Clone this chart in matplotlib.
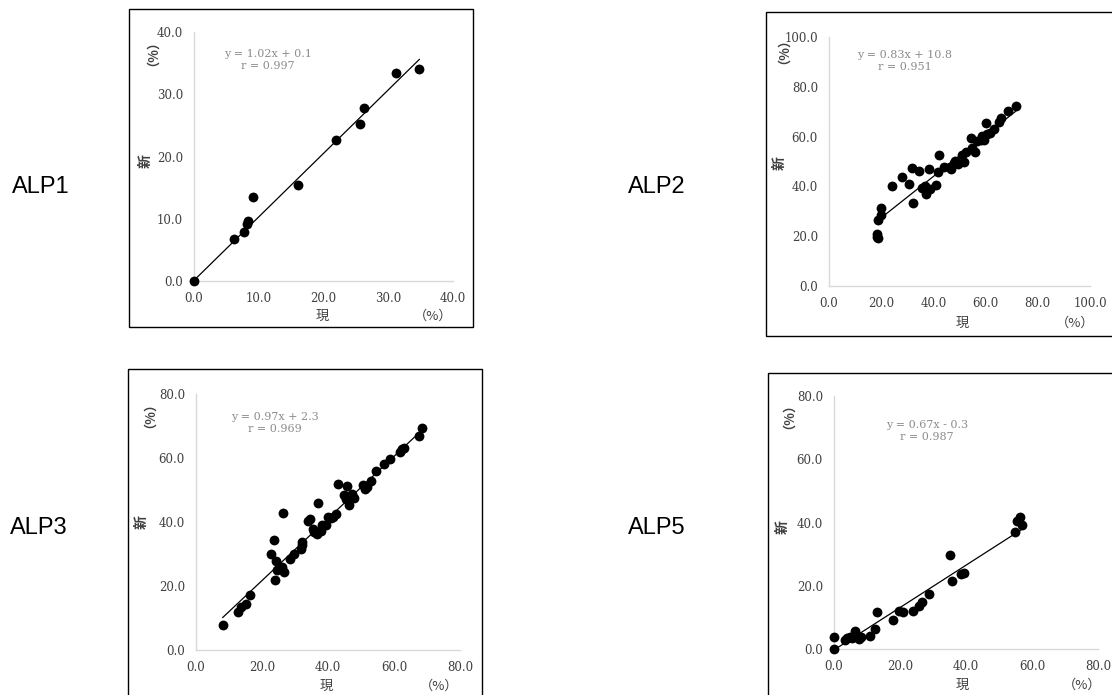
import numpy as np
import matplotlib
matplotlib.use('Agg')
import matplotlib.pyplot as plt
from matplotlib.patches import Rectangle

# ALP1
alp1_x = [0.0, 6.2, 7.7, 8.2, 8.4, 9.1, 16.0, 22.0, 25.6, 26.2, 31.2, 34.8]
alp1_y = [0.0, 6.8, 7.9, 9.1, 9.6, 13.5, 15.5, 22.6, 25.3, 27.8, 33.4, 34.1]

# ALP2
alp2_x = [18.3, 18.5, 18.6, 18.9, 19.9, 19.9, 24.0, 28.0, 30.8, 31.8, 32.3, 34.6,
          35.6, 36.8, 37.0, 38.2, 38.8, 41.1, 41.6, 42.0, 44.2, 46.5, 46.7, 47.8,
          48.3, 49.3, 51.1, 51.9, 52.4, 54.3, 54.8, 56.0, 56.8, 58.2, 58.8, 59.5,
          60.0, 60.5, 61.8, 63.2, 65.1, 66.0, 68.7, 71.5]
alp2_y = [20.7, 19.8, 19.2, 26.6, 28.7, 31.4, 40.0, 43.6, 40.8, 47.5, 33.2, 46.3,
          39.3, 40.1, 36.8, 47.0, 38.8, 40.5, 45.9, 52.8, 47.6, 47.7, 46.8, 49.5,
          50.1, 49.1, 52.8, 49.9, 53.9, 59.6, 55.5, 53.9, 58.2, 58.6, 60.2, 58.8,
          65.5, 61.1, 61.4, 63.2, 65.9, 67.4, 70.3, 72.1]

# ALP3
alp3_x = [8.1, 12.6, 13.7, 15.2, 16.5, 22.8, 23.5, 24.1, 23.9, 24.6, 25.3, 26.0,
          26.3, 26.6, 28.4, 29.6, 31.7, 32.0, 32.2, 33.9, 34.6, 35.4, 35.9, 36.8,
          37.1, 37.8, 38.1, 39.4, 39.9, 40.9, 41.6, 42.3, 42.9, 44.8, 45.4, 45.7,
          46.4, 46.7, 47.3, 47.8, 50.7, 51.2, 51.8, 53.1, 54.4, 56.9, 58.9, 61.7,
          62.5, 62.9, 67.5, 68.4]
alp3_y = [7.8, 11.8, 13.4, 14.3, 17.2, 29.9, 34.3, 27.8, 21.8, 25.0, 25.5, 26.0,
          42.9, 24.5, 28.3, 30.0, 31.5, 32.8, 33.6, 40.3, 40.8, 37.7, 37.0, 36.4,
          45.8, 37.2, 39.1, 39.1, 41.6, 41.1, 41.7, 42.5, 51.9, 48.4, 47.2, 51.4,
          45.3, 47.8, 48.9, 47.4, 51.6, 50.3, 50.8, 52.9, 55.9, 58.0, 59.6, 61.9,
          62.9, 63.2, 66.9, 69.3]

# ALP5
alp5_x = [0.0, 0.0, 3.2, 3.8, 4.7, 5.5, 6.3, 6.8, 7.6, 8.3, 11.0, 12.4, 13.1,
          17.9, 19.7, 20.8, 23.8, 25.7, 26.8, 28.9, 35.2, 35.9, 38.6, 39.3,
          54.7, 55.4, 56.3, 57.0]
alp5_y = [0.0, 3.7, 2.8, 3.4, 3.9, 3.6, 5.7, 4.4, 3.2, 3.9, 4.1, 6.4, 11.6,
          9.3, 12.0, 11.7, 12.1, 13.6, 14.8, 17.5, 29.7, 21.4, 23.8, 23.9,
          36.9, 40.6, 41.6, 39.2]

names = ['ALP1', 'ALP2', 'ALP3', 'ALP5']
slopes = [1.02, 0.83, 0.97, 0.67]
intercepts = [0.1, 10.8, 2.3, -0.3]
eq_texts = ['y = 1.02x + 0.1\nr = 0.997', 'y = 0.83x + 10.8\nr = 0.951',
            'y = 0.97x + 2.3\nr = 0.969', 'y = 0.67x - 0.3\nr = 0.987']
axis_max = [40, 100, 80, 80]
tick_step = [10, 20, 20, 20]

W, H = 1112, 695
fig = plt.figure(figsize=(W / 100, H / 100), dpi=100)

def fx(px):
    return px / W

def fy(py):
    return (H - py) / H

# layout in pixels: axes box (left, right, bottom-y, top-y), frame box, texts
axes_px = [(194, 453, 281, 32), (829, 1090, 286, 37), (196, 460, 650, 394), (834, 1098, 649, 396)]
frame_px = [(129, 473, 327, 9), (766, 1130, 336, 12), (128, 482, 705, 369), (768, 1130, 705, 373)]
name_px = [(12, 187), (628, 187), (10, 528), (628, 528)]
eq_px = [(268, 60), (905, 61), (275, 423), (927, 431)]
ylab_px = [((146, 46), (146, 161)), ((777, 44), (780, 163)), ((143, 408), (142, 522)), ((782, 409), (783, 527))]
xlab_px = [((322, 316), (433, 316)), ((962, 323), (1075, 323)), ((326, 686), (439, 686)), ((962, 685), (1082, 685))]

data = [(alp1_x, alp1_y), (alp2_x, alp2_y), (alp3_x, alp3_y), (alp5_x, alp5_y)]
cjk = ['Noto Sans CJK JP', 'DejaVu Sans']

for i in range(4):
    l, r, b, t = axes_px[i]
    ax = fig.add_axes([fx(l), fy(b), fx(r) - fx(l), fy(t) - fy(b)])
    x, y = data[i]
    ax.scatter(x, y, s=50, color='black', zorder=3, linewidths=0, clip_on=False)
    xs = np.array([min(x), max(x)])
    ax.plot(xs, slopes[i] * xs + intercepts[i], color='black', lw=0.9, zorder=2, clip_on=False)
    m = axis_max[i]
    ax.set_xlim(0, m)
    ax.set_ylim(0, m)
    ticks = np.arange(0, m + 1, tick_step[i])
    ax.set_xticks(ticks)
    ax.set_yticks(ticks)
    ax.set_xticklabels(['%.1f' % v for v in ticks])
    ax.set_yticklabels(['%.1f' % v for v in ticks])
    for sp in ['top', 'right']:
        ax.spines[sp].set_visible(False)
    for sp in ['left', 'bottom']:
        ax.spines[sp].set_color('#d9d9d9')
        ax.spines[sp].set_linewidth(1.0)
    ax.tick_params(length=0, pad=8, labelsize=8.5, labelcolor='#404040')
    for lab in ax.get_xticklabels() + ax.get_yticklabels():
        lab.set_family('DejaVu Serif')
    ax.patch.set_alpha(0)

    # frame around each chart
    fl, fr, fb, ft = frame_px[i]
    fig.add_artist(Rectangle((fx(fl), fy(fb)), fx(fr) - fx(fl), fy(ft) - fy(fb),
                             transform=fig.transFigure, fill=False, edgecolor='black', lw=1.0))

    ex, ey = eq_px[i]
    fig.text(fx(ex), fy(ey), eq_texts[i], ha='center', va='center', family='DejaVu Serif',
             fontsize=8, color='#8c8c8c', linespacing=1.15)

    nx, ny = name_px[i]
    fig.text(fx(nx), fy(ny), names[i], ha='left', va='center', family='Liberation Sans', fontsize=17)

    (px1, py1), (px2, py2) = ylab_px[i]
    fig.text(fx(px1), fy(py1), '（%）', rotation=90, ha='center', va='center',
             family=cjk, fontsize=9.5, fontweight='bold', color='#404040')
    fig.text(fx(px2), fy(py2), '新', rotation=90, ha='center', va='center',
             family=cjk, fontsize=10, fontweight='bold', color='#404040')
    (qx1, qy1), (qx2, qy2) = xlab_px[i]
    fig.text(fx(qx1), fy(qy1), '現', ha='center', va='center',
             family=cjk, fontsize=9.5, color='#404040')
    fig.text(fx(qx2), fy(qy2), '（%）', ha='center', va='center',
             family=cjk, fontsize=9.5, color='#404040')

fig.savefig('out.png', dpi=100)
